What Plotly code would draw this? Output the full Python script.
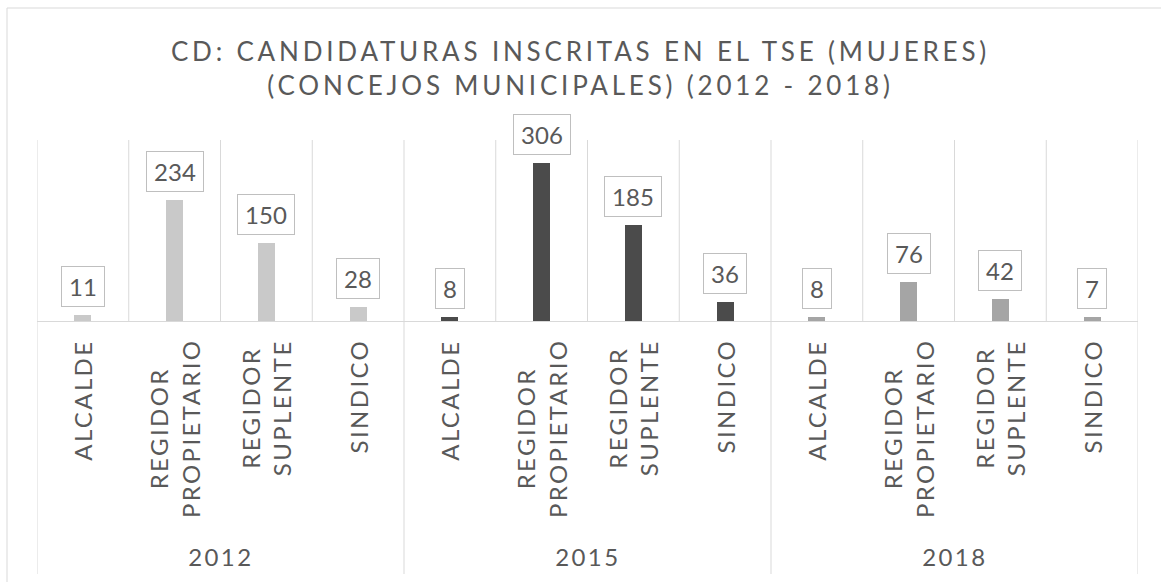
import plotly.graph_objects as go

# ---------------- data ----------------
years = ["2012", "2015", "2018"]
cargos = ["ALCALDE", "REGIDOR<br>PROPIETARIO", "REGIDOR<br>SUPLENTE", "SINDICO"]
v2012 = [11, 234, 150, 28]
v2015 = [8, 306, 185, 36]
v2018 = [8, 76, 42, 7]
title_lines = ["CD: CANDIDATURAS INSCRITAS EN EL TSE (MUJERES)",
               "(CONCEJOS MUNICIPALES) (2012 - 2018)"]

# ---------------- style ----------------
W, H = 1161, 582
PL, PR, PT, PB = 37, 1138, 140, 321      # plot area in pixels
FONT = "Lato"
TXT = "#595959"
GRID = "#d9d9d9"
bar_colors = ["#c9c9c9", "#4b4b4b", "#a5a5a5"]
SPACING = 2.4
TITLE_SPACING = 3.8


def py2paper(py):
    return (PB - py) / (PB - PT)


def px2paper(px):
    return (px - PL) / (PR - PL)


series = [v2012, v2015, v2018]
ncat = len(cargos)
ntot = ncat * len(years)

fig = go.Figure()
annotations = []
for g, (yr, vals) in enumerate(zip(years, series)):
    xs = [g * ncat + i for i in range(ncat)]
    fig.add_trace(go.Bar(x=xs, y=vals, name=yr, width=0.185,
                         marker=dict(color=bar_colors[g], line=dict(width=0)),
                         hoverinfo="x+y"))
    for x, v in zip(xs, vals):
        n = len(str(v))
        annotations.append(dict(
            x=x, y=v, xref="x", yref="y", text=str(v), showarrow=False,
            yanchor="bottom", yshift=8,
            font=dict(family=FONT, size=24, color=TXT),
            bordercolor="#bfbfbf", borderwidth=1, borderpad=5,
            bgcolor="white", width=14 * n + 4))

# category labels (rotated)
for g in range(len(years)):
    for i, c in enumerate(cargos):
        longest = max(len(s) for s in c.split("<br>"))
        annotations.append(dict(
            x=g * ncat + i, xref="x", y=py2paper(339), yref="paper",
            text=c, showarrow=False, textangle=-90, yanchor="top",
            xanchor="center", align="center",
            yshift=-(longest - 2) * SPACING / 2,
            font=dict(family=FONT, size=24, color=TXT)))

# year labels
for g, yr in enumerate(years):
    annotations.append(dict(
        x=g * ncat + (ncat - 1) / 2, xref="x", y=py2paper(556), yref="paper",
        text=yr, showarrow=False, yanchor="middle",
        font=dict(family=FONT, size=24, color=TXT)))

shapes = []
# vertical gridlines at category boundaries
for k in range(ntot + 1):
    shapes.append(dict(type="line", xref="x", yref="y", x0=k - 0.5, x1=k - 0.5,
                       y0=0, y1=350, line=dict(color=GRID, width=1), layer="below"))
# group dividers below the axis
for k in range(0, ntot + 1, ncat):
    shapes.append(dict(type="line", xref="x", yref="paper", x0=k - 0.5, x1=k - 0.5,
                       y0=0, y1=py2paper(574), line=dict(color=GRID, width=1),
                       layer="below"))
# chart area border
shapes.append(dict(type="rect", xref="paper", yref="paper",
                   x0=px2paper(7), x1=px2paper(1175),
                   y0=py2paper(600), y1=py2paper(8),
                   line=dict(color=GRID, width=1), fillcolor="rgba(0,0,0,0)",
                   layer="below"))

fig.update_layout(
    width=W, height=H,
    margin=dict(l=PL, r=W - PR, t=PT, b=H - PB, pad=0),
    paper_bgcolor="white", plot_bgcolor="white",
    showlegend=False,
    title=dict(text="<br>".join(title_lines), x=0.5, xref="container",
               xanchor="center", y=1 - 61 / H, yref="container", yanchor="top",
               font=dict(family=FONT, size=26, color=TXT)),
    xaxis=dict(range=[-0.5, ntot - 0.5], showline=True, linecolor=GRID, linewidth=1,
               showgrid=False, zeroline=False, showticklabels=False, ticks="",
               fixedrange=True),
    yaxis=dict(range=[0, 350], visible=False, showgrid=False, zeroline=False,
               fixedrange=True),
    annotations=annotations,
    shapes=shapes,
    bargap=0,
)

n_data_labels = ntot
post = """
var gd = document.getElementById('{plot_id}');
document.body.style.margin = '0';
gd.querySelectorAll('.gtitle').forEach(function(e){ e.style.letterSpacing = '%spx'; });
gd.querySelectorAll('g.annotation').forEach(function(g){
  var i = +g.getAttribute('data-index');
  if (i >= %d) {
    g.querySelectorAll('text').forEach(function(t){ t.style.letterSpacing = '%spx'; });
  }
});
""" % (TITLE_SPACING, n_data_labels, SPACING)

fig.write_html("out.html", post_script=post, config={"displayModeBar": False})
